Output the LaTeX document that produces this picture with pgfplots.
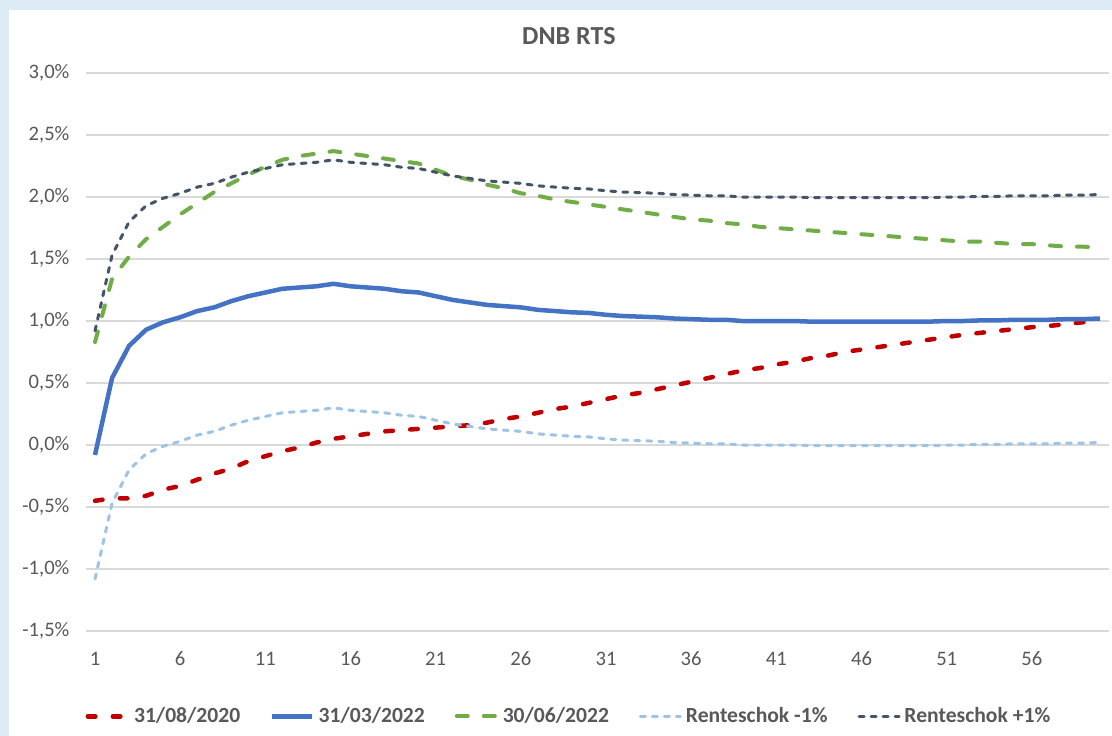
\documentclass[border=0pt]{standalone}
\usepackage{fontspec}
\setmainfont{Carlito}
\usepackage{pgfplots}
\usepackage{pgfplotstable}
\pgfplotsset{compat=1.18}

\definecolor{txt}{RGB}{89,89,89}
\definecolor{gridc}{RGB}{217,217,217}
\definecolor{cred}{RGB}{192,0,0}
\definecolor{cblue}{RGB}{68,114,196}
\definecolor{cgreen}{RGB}{112,173,71}
\definecolor{clight}{RGB}{157,195,230}
\definecolor{cnavy}{RGB}{68,84,106}
\definecolor{bgblue}{RGB}{221,235,247}

% n, 31/08/2020, 31/03/2022, 30/06/2022, Renteschok -1%, Renteschok +1%
\pgfplotstableread{
n  a      b      c     lo      hi
1  -0.45  -0.08  0.83  -1.08   0.92
2  -0.43  0.54   1.34  -0.47   1.53
3  -0.43  0.80   1.52  -0.20   1.80
4  -0.41  0.93   1.66  -0.07   1.93
5  -0.36  0.99   1.76  -0.01   1.99
6  -0.33  1.03   1.86   0.03   2.03
7  -0.28  1.08   1.95   0.08   2.08
8  -0.23  1.11   2.04   0.11   2.11
9  -0.19  1.16   2.11   0.16   2.16
10 -0.13  1.20   2.18   0.20   2.20
11 -0.09  1.23   2.245  0.23   2.23
12 -0.05  1.26   2.30   0.26   2.26
13 -0.02  1.27   2.33   0.27   2.27
14 0.02   1.28   2.35   0.28   2.28
15 0.05   1.30   2.37   0.30   2.30
16 0.07   1.28   2.35   0.28   2.28
17 0.09   1.27   2.33   0.27   2.27
18 0.11   1.26   2.31   0.26   2.26
19 0.12   1.24   2.29   0.24   2.24
20 0.13   1.23   2.27   0.23   2.23
21 0.14   1.20   2.22   0.20   2.20
22 0.15   1.17   2.17   0.17   2.17
23 0.16   1.15   2.14   0.15   2.15
24 0.18   1.13   2.10   0.13   2.13
25 0.21   1.12   2.07   0.12   2.12
26 0.23   1.11   2.03   0.11   2.11
27 0.26   1.09   2.01   0.09   2.09
28 0.29   1.08   1.98   0.08   2.08
29 0.31   1.07   1.96   0.07   2.07
30 0.34   1.065  1.94   0.065  2.065
31 0.37   1.05   1.92   0.05   2.05
32 0.40   1.04   1.90   0.04   2.04
33 0.42   1.035  1.88   0.035  2.035
34 0.45   1.03   1.86   0.03   2.03
35 0.48   1.02   1.84   0.02   2.02
36 0.51   1.015  1.82   0.015  2.015
37 0.54   1.01   1.81   0.01   2.01
38 0.57   1.01   1.79   0.01   2.01
39 0.60   1.00   1.78   0.00   2.00
40 0.62   1.00   1.76   0.00   2.00
41 0.65   1.00   1.75   0.00   2.00
42 0.67   1.00   1.74   0.00   2.00
43 0.70   0.995  1.73  -0.005   1.995
44 0.72   0.995  1.72  -0.005   1.995
45 0.75   0.995  1.71  -0.005   1.995
46 0.77   0.995  1.70  -0.005   1.995
47 0.79   0.995  1.69  -0.005   1.995
48 0.81   0.995  1.68  -0.005   1.995
49 0.83   0.995  1.67  -0.005   1.995
50 0.85   0.995  1.66  -0.005   1.995
51 0.87   1.00   1.65   0.00   2.00
52 0.89   1.00   1.64   0.00   2.00
53 0.905  1.005  1.64   0.005  2.005
54 0.92   1.005  1.63   0.005  2.005
55 0.935  1.01   1.62   0.01   2.01
56 0.95   1.01   1.62   0.01   2.01
57 0.96   1.01   1.61   0.01   2.01
58 0.975  1.015  1.60   0.015  2.015
59 0.99   1.015  1.60   0.015  2.015
60 1.00   1.02   1.59   0.02   2.02
}\rts

\begin{document}
\begin{tikzpicture}
\fill[bgblue] (-43.25bp,-52.5bp) rectangle (512.75bp,315.5bp);
\fill[white] (-38.75bp,-52.5bp) rectangle (512.75bp,310.5bp);
\begin{axis}[
  at={(0,0)}, anchor=south west,
  scale only axis, width=511bp, height=279bp,
  xmin=0.5, xmax=60.5, ymin=-1.5, ymax=3.0,
  xtick={1,6,...,56}, ytick={-1.5,-1,...,3},
  axis line style={draw=none}, major tick length=0pt,
  ymajorgrids, grid style={gridc, line width=0.75bp},
  font=\fontsize{10.3bp}{12bp}\selectfont,
  tick label style={text=txt},
  /pgf/number format/assume math mode=true,
  yticklabel={\pgfmathprintnumber{\tick}\%},
  yticklabel style={/pgf/number format/.cd, fixed, fixed zerofill, precision=1, use comma, /tikz/.cd, xshift=-5bp},
  xticklabel style={yshift=-7bp},
  title={DNB RTS},
  title style={font=\bfseries\fontsize{13bp}{15bp}\selectfont, text=txt, at={(0.472,1.045)}, anchor=center},
  legend columns=5,
  legend style={draw=none, fill=none, at={(0.473,-0.153)}, anchor=center,
    font=\bfseries\fontsize{10.8bp}{12bp}\selectfont, text=txt,
    /tikz/every even column/.append style={column sep=13bp},
    /tikz/every odd column/.append style={column sep=0bp}},
  legend image code/.code={\draw[#1] (0bp,0bp) -- (20bp,0bp);},
  every axis plot/.append style={line cap=round},
]
\addplot[cred, line width=2.25bp, dash pattern=on 3.8bp off 8.7bp] table[x=n, y=a] {\rts};
\addlegendentry{31/08/2020}
\addplot[cblue, line width=2.25bp, line cap=butt] table[x=n, y=b] {\rts};
\addlegendentry{31/03/2022}
\addplot[cgreen, line width=2bp, dash pattern=on 5.5bp off 8bp] table[x=n, y=c] {\rts};
\addlegendentry{30/06/2022}
\addplot[clight, line width=1.5bp, dash pattern=on 2.5bp off 3.5bp] table[x=n, y=lo] {\rts};
\addlegendentry{Renteschok -1\%}
\addplot[cnavy, line width=1.5bp, dash pattern=on 2.5bp off 3.5bp] table[x=n, y=hi] {\rts};
\addlegendentry{Renteschok +1\%}
\end{axis}
\pgfresetboundingbox
\path[use as bounding box] (-43.25bp,-52.5bp) rectangle (512.75bp,315.5bp);
\end{tikzpicture}
\end{document}
